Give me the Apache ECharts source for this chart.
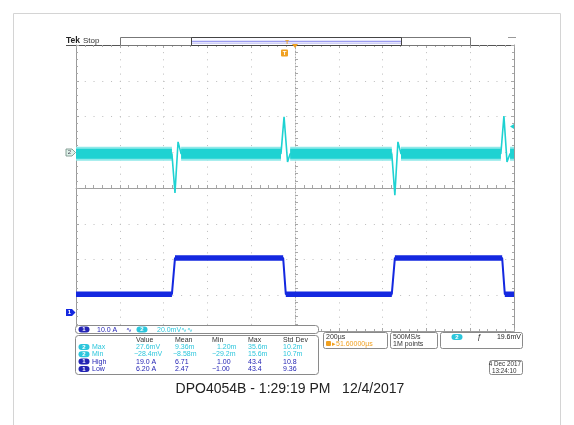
<!DOCTYPE html>
<html><head><meta charset="utf-8">
<script src="https://cdn.jsdelivr.net/npm/echarts/dist/echarts.min.js"></script>
<style>html,body{margin:0;padding:0;background:#fff}#c{width:574px;height:425px}</style>
</head><body><div id="c"></div>
<script>
// ---- data (divisions on the graticule) ----
const ch2Time = [-5, -2.81, -2.74, -2.67, -2.60, -0.32, -0.25, -0.17, -0.11, 2.21, 2.28, 2.35, 2.42, 4.70, 4.77, 4.84, 4.91, 5];
const ch2Volt = [0.96, 0.96, -0.14, 1.29, 0.96, 0.96, 1.99, 0.73, 0.96, 0.96, -0.20, 1.29, 0.96, 0.96, 2.01, 0.73, 0.96, 0.96];
const ch1Time = [-5, -2.81, -2.74, -0.27, -0.21, 2.21, 2.28, 4.73, 4.79, 5];
const ch1Amp  = [-2.97, -2.97, -1.96, -1.96, -2.97, -2.97, -1.96, -1.96, -2.97, -2.97];

const measHeaders = ['Value', 'Mean', 'Min', 'Max', 'Std Dev'];
const measCh = ['2', '2', '1', '1'];
const measLabels = ['Max', 'Min', 'High', 'Low'];
const measRow1 = ['27.6mV', '9.36m', '1.20m', '35.6m', '10.2m'];
const measRow2 = ['-28.4mV', '-8.58m', '-29.2m', '15.6m', '10.7m'];
const measRow3 = ['19.0 A', '6.71', '1.00', '43.4', '10.8'];
const measRow4 = ['6.20 A', '2.47', '-1.00', '43.4', '9.36'];
const measRows = [measRow1, measRow2, measRow3, measRow4];

const chScale1 = '10.0 A';
const chScale2 = '20.0mV';
const horizScale = '200µs';
const horizPos = '▸51.60000µs';
const sampleRate = '500MS/s';
const recordLen = '1M points';
const trigLevel = '19.6mV';
const scopeDate = '4 Dec 2017';
const scopeTime = '13:24:10';
const footer = 'DPO4054B - 1:29:19 PM   12/4/2017';

// ---- helpers ----
function flatSegments(xs, ys) {
  const out = [];
  for (let i = 0; i < xs.length - 1; i++) {
    if (ys[i] === ys[i + 1]) {
      out.push([xs[i], ys[i]], [xs[i + 1], ys[i + 1]], [(xs[i] + xs[i + 1]) / 2, '-']);
    }
  }
  return out;
}
const F = '"Liberation Sans", Arial, sans-serif';
const CY = '#1ed2d2', CYT = '#2cc6dc', BL = '#1428e0', BLT = '#2424b4', OR = '#f0a020';
function txt(x, y, s, o) {
  return { type: 'text', x: x, y: y, z: 60, style: Object.assign({ text: s, fill: '#333', fontSize: 7, fontFamily: F, align: 'left', verticalAlign: 'middle' }, o || {}) };
}
function badge(x, y, n, color) {
  return [
    { type: 'rect', z: 55, shape: { x: x - 5.5, y: y - 3, width: 11, height: 6, r: 3 }, style: { fill: color } },
    { type: 'text', z: 56, x: x, y: y + 0.2, style: { text: n, fill: '#fff', fontSize: 6, fontWeight: 'bold', fontFamily: F, align: 'center', verticalAlign: 'middle' } }
  ];
}
function box(x, y, w, h, r) {
  return { type: 'rect', z: 40, shape: { x: x, y: y, width: w, height: h, r: r || 2 }, style: { fill: '#fff', stroke: '#8a8a8a', lineWidth: 1 } };
}

const graphics = [];
// outer frame
graphics.push({ type: 'rect', z: 1, shape: { x: 13.5, y: 13.5, width: 547, height: 420 }, style: { fill: 'none', stroke: '#d4d4d4', lineWidth: 1 } });
// Tek Stop
graphics.push(txt(66, 41, 'Tek', { fontWeight: 'bold', fontSize: 8.5, fill: '#222' }));
graphics.push(txt(83, 41, 'Stop', { fontSize: 8, fill: '#333' }));
graphics.push({ type: 'line', z: 30, shape: { x1: 66, y1: 45.5, x2: 76, y2: 45.5 }, style: { stroke: '#555', lineWidth: 1 } });
// record bar
graphics.push({ type: 'rect', z: 30, shape: { x: 120.5, y: 37.5, width: 350, height: 8 }, style: { fill: '#fff', stroke: '#777', lineWidth: 1 } });
graphics.push({ type: 'rect', z: 31, shape: { x: 191.5, y: 37.5, width: 210, height: 8 }, style: { fill: '#fbfbff', stroke: '#444', lineWidth: 1 } });
graphics.push({ type: 'line', z: 32, shape: { x1: 192, y1: 41.5, x2: 401, y2: 41.5 }, style: { stroke: '#9c9cf0', lineWidth: 1.5 } });
graphics.push({ type: 'line', z: 32, shape: { x1: 192, y1: 43.5, x2: 401, y2: 43.5 }, style: { stroke: '#cfcff8', lineWidth: 1 } });
// trigger position markers
graphics.push(txt(287, 42, 'T', { fill: OR, fontSize: 6, fontWeight: 'bold', align: 'center' }));
graphics.push({ type: 'polygon', z: 33, shape: { points: [[292, 44], [298, 44], [295, 48]] }, style: { fill: OR } });
graphics.push({ type: 'rect', z: 33, shape: { x: 281, y: 49.5, width: 7, height: 7, r: 1 }, style: { fill: OR } });
graphics.push(txt(284.5, 53.2, 'T', { fill: '#fff', fontSize: 6, fontWeight: 'bold', align: 'center' }));
// small dash top right
graphics.push({ type: 'line', z: 30, shape: { x1: 508, y1: 37.5, x2: 516, y2: 37.5 }, style: { stroke: '#999', lineWidth: 1 } });
// channel ground markers
graphics.push({ type: 'polygon', z: 35, shape: { points: [[66, 149], [72, 149], [75.5, 152.5], [72, 156], [66, 156]] }, style: { fill: '#dff2ea', stroke: '#6c8c80', lineWidth: 0.8 } });
graphics.push(txt(69.5, 152.7, '2', { fontSize: 6, fill: '#445', align: 'center' }));
graphics.push({ type: 'polygon', z: 35, shape: { points: [[66, 309], [72, 309], [75.5, 312.5], [72, 316], [66, 316]] }, style: { fill: BL } });
graphics.push(txt(69.5, 312.7, '1', { fontSize: 6, fill: '#fff', align: 'center', fontWeight: 'bold' }));
// trigger level marker
graphics.push({ type: 'polygon', z: 35, shape: { points: [[510, 126.5], [514, 124], [514, 129]] }, style: { fill: CY } });

// channel readout row
graphics.push(box(75.5, 325.5, 243, 8, 3));
graphics.push.apply(graphics, badge(84, 329.5, '1', BLT));
graphics.push(txt(97, 329.7, chScale1, { fill: BLT }));
graphics.push(txt(126, 329.7, '∿', { fill: BLT }));
graphics.push.apply(graphics, badge(142, 329.5, '2', CYT));
graphics.push(txt(157, 329.7, chScale2 + '∿∿', { fill: CYT }));
// measurement table
graphics.push(box(75.5, 335.5, 243, 39, 3));
const colX = [136, 175, 212, 248, 283];
measHeaders.forEach(function (h, i) { graphics.push(txt(colX[i], 340, h, { fill: '#333' })); });
const rowY = [347, 354.3, 361.6, 368.9];
measRows.forEach(function (row, r) {
  const col = measCh[r] === '2' ? CYT : BLT;
  graphics.push.apply(graphics, badge(84, rowY[r], measCh[r], col));
  graphics.push(txt(92, rowY[r], measLabels[r], { fill: col }));
  row.forEach(function (v, i) {
    const neg = v.charAt(0) === '-';
    let x = colX[i] + (neg ? -2 : 0);
    if (i === 2) x = colX[i] + (neg ? 0 : 5);
    graphics.push(txt(x, rowY[r], v.replace('-', '−'), { fill: col }));
  });
});
// horizontal box
graphics.push(box(323.5, 332.5, 64, 16, 2));
graphics.push(txt(326, 337, horizScale, { fill: '#333' }));
graphics.push({ type: 'rect', z: 51, shape: { x: 326, y: 341, width: 5, height: 5, r: 1 }, style: { fill: OR } });
graphics.push(txt(332, 343.7, horizPos, { fill: OR }));
// sample box
graphics.push(box(390.5, 332.5, 47, 16, 2));
graphics.push(txt(393, 337, sampleRate, { fill: '#333' }));
graphics.push(txt(393, 343.7, recordLen, { fill: '#333' }));
// trigger box
graphics.push(box(440.5, 332.5, 82, 16, 2));
graphics.push.apply(graphics, badge(457, 337, '2', CYT));
graphics.push(txt(477, 337, 'ƒ', { fill: '#222', fontSize: 7.5, fontStyle: 'italic' }));
graphics.push(txt(521, 337, trigLevel, { fill: '#222', align: 'right' }));
// date box
graphics.push(box(489.5, 360.5, 33, 14, 2));
graphics.push(txt(521, 364.5, scopeDate, { fill: '#333', align: 'right', fontSize: 6.3 }));
graphics.push(txt(492, 370.8, scopeTime, { fill: '#333', fontSize: 6.3 }));
// footer
graphics.push(txt(290, 389, footer, { fill: '#222', fontSize: 14, align: 'center', fontFamily: '"Liberation Sans", Arial, Helvetica, sans-serif' }));

const tickGray = '#a8a8a8';
function edgeAxis(pos, isX, lineColor) {
  return {
    type: 'value', position: pos, min: isX ? -5 : -4, max: isX ? 5 : 4, interval: 1,
    axisLine: { show: true, onZero: false, lineStyle: { color: lineColor, width: 1 } },
    axisTick: { show: true, inside: true, length: 3, lineStyle: { color: tickGray } },
    minorTick: { show: true, splitNumber: 5, length: 2, lineStyle: { color: tickGray } },
    axisLabel: { show: false }, splitLine: { show: false }
  };
}

const option = {
  animation: false,
  backgroundColor: '#ffffff',
  grid: { left: 76, top: 45, width: 438, height: 286, show: false },
  xAxis: [
    {
      type: 'value', min: -5, max: 5, interval: 1, position: 'bottom',
      axisLine: { show: true, onZero: true, onZeroAxisIndex: 0, lineStyle: { color: '#a0a0a0', width: 1 } },
      axisTick: { show: true, inside: true, length: 3, lineStyle: { color: tickGray } },
      minorTick: { show: true, splitNumber: 5, length: 3, lineStyle: { color: tickGray } },
      axisLabel: { show: false },
      splitLine: { show: true, lineStyle: { color: '#bcbcbc', width: 1, type: [1, 6.15] } }
    },
    edgeAxis('top', true, '#555'),
    edgeAxis('bottom', true, '#9a9a9a')
  ],
  yAxis: [
    {
      type: 'value', min: -4, max: 4, interval: 1, position: 'left',
      axisLine: { show: true, onZero: true, onZeroAxisIndex: 0, lineStyle: { color: '#a8a8a8', width: 1, type: [1, 2] } },
      axisTick: { show: true, inside: true, length: 3, lineStyle: { color: tickGray } },
      minorTick: { show: true, splitNumber: 5, length: 3, lineStyle: { color: tickGray } },
      axisLabel: { show: false },
      splitLine: { show: true, lineStyle: { color: '#bcbcbc', width: 1, type: [1, 7.76] } }
    },
    edgeAxis('left', false, '#9a9a9a'),
    edgeAxis('right', false, '#9a9a9a')
  ],
  series: [
    { name: 'ch2 band halo', type: 'line', xAxisIndex: 0, yAxisIndex: 0, symbol: 'none', connectNulls: false, z: 3,
      data: flatSegments(ch2Time, ch2Volt), lineStyle: { color: '#8fe9e9', width: 14 } },
    { name: 'ch2 band', type: 'line', xAxisIndex: 0, yAxisIndex: 0, symbol: 'none', connectNulls: false, z: 4,
      data: flatSegments(ch2Time, ch2Volt), lineStyle: { color: CY, width: 10 } },
    { name: 'ch2', type: 'line', xAxisIndex: 0, yAxisIndex: 0, symbol: 'none', z: 5,
      data: ch2Time.map(function (x, i) { return [x, ch2Volt[i]]; }), lineStyle: { color: CY, width: 1.6 } },
    { name: 'ch1 band', type: 'line', xAxisIndex: 0, yAxisIndex: 0, symbol: 'none', connectNulls: false, z: 6,
      data: flatSegments(ch1Time, ch1Amp), lineStyle: { color: BL, width: 5.5 } },
    { name: 'ch1', type: 'line', xAxisIndex: 0, yAxisIndex: 0, symbol: 'none', z: 7,
      data: ch1Time.map(function (x, i) { return [x, ch1Amp[i]]; }), lineStyle: { color: BL, width: 2 } }
  ],
  graphic: graphics
};
const chart = echarts.init(document.getElementById('c'), null, { renderer: 'canvas' });
chart.setOption(option);
</script></body></html>
